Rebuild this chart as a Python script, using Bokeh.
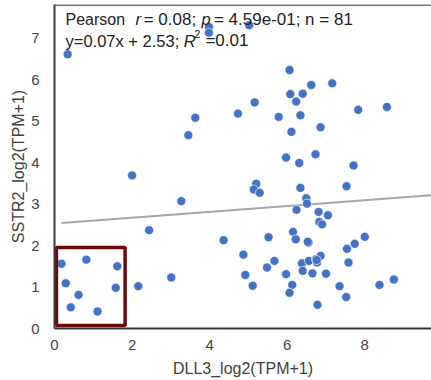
from bokeh.plotting import figure
from bokeh.models import Range1d, Span, Label, ColumnDataSource
from bokeh.embed import file_html
from bokeh.resources import INLINE

# ---- data ----
dll3 = [0.34, 3.98, 3.98, 5.02, 6.06, 6.62, 7.16, 6.08, 6.40, 6.23, 5.16, 7.83, 8.57,
        3.63, 4.73, 5.78, 6.34, 6.11, 6.86, 3.45, 5.97, 6.73, 6.31, 7.71, 2.00, 5.20,
        5.14, 5.29, 6.34, 7.53, 3.27, 6.49, 6.51, 6.24, 6.81, 7.05, 6.83, 6.90, 2.44,
        6.15, 4.36, 5.52, 6.22, 6.55, 8.00, 7.74, 7.54, 0.18, 0.82, 1.62, 0.29, 0.62,
        1.58, 0.42, 1.11, 2.16, 3.01, 4.87, 4.92, 5.11, 5.48, 5.67, 5.97, 6.13, 6.06,
        6.38, 6.40, 6.56, 6.74, 6.77, 6.86, 6.65, 7.00, 6.78, 7.35, 7.52, 7.58, 8.38,
        8.75, 6.53, 6.76]
sstr2 = [6.61, 7.27, 7.13, 7.31, 6.23, 5.87, 5.91, 5.65, 5.66, 5.47, 5.45, 5.27, 5.34,
         5.08, 5.18, 5.10, 5.14, 4.74, 4.85, 4.66, 4.12, 4.20, 3.99, 3.93, 3.69, 3.49,
         3.35, 3.27, 3.39, 3.43, 3.07, 3.14, 3.01, 2.86, 2.81, 2.73, 2.57, 2.51, 2.37,
         2.33, 2.13, 2.20, 2.15, 2.07, 2.21, 2.04, 1.92, 1.56, 1.66, 1.50, 1.09, 0.81,
         0.98, 0.51, 0.41, 1.02, 1.23, 1.78, 1.29, 1.03, 1.47, 1.63, 1.31, 1.05, 0.86,
         1.57, 1.39, 1.63, 1.67, 1.59, 1.75, 1.33, 1.32, 0.57, 1.02, 0.76, 1.59, 1.05,
         1.18, 2.09, 1.65]
fit_slope = 0.07
fit_intercept = 2.53
x_ticks = [0, 2, 4, 6, 8]
y_ticks = [0, 1, 2, 3, 4, 5, 6, 7]
x_label = "DLL3_log2(TPM+1)"
y_label = "SSTR2_log2(TPM+1)"
# highlighted low-expression region (data units)
box_left, box_right, box_bottom, box_top = 0.05, 1.82, 0.07, 1.95

X_MAX = 9.72
Y_MAX = 7.81
FONT = "Liberation Sans"

p = figure(width=431, height=380, output_backend="svg", toolbar_location=None,
           x_range=Range1d(0, X_MAX), y_range=Range1d(0, Y_MAX),
           min_border_left=54, min_border_right=0, min_border_top=4, min_border_bottom=52)
p.outline_line_color = None
p.grid.visible = False
p.background_fill_color = "white"
p.border_fill_color = "white"

# axes
for ax in (p.xaxis[0], p.yaxis[0]):
    ax.axis_line_color = "#3a3a3a"
    ax.axis_line_width = 2
    ax.major_tick_line_color = None
    ax.minor_tick_line_color = None
    ax.major_tick_out = 0
    ax.major_tick_in = 0
    ax.minor_tick_out = 0
    ax.minor_tick_in = 0
    ax.major_label_text_font = FONT
    ax.major_label_text_font_size = "15px"
    ax.major_label_text_color = "#444444"
    ax.axis_label_text_font = FONT
    ax.axis_label_text_font_size = "16px"
    ax.axis_label_text_font_style = "normal"
    ax.axis_label_text_color = "#404040"
p.xaxis.ticker = x_ticks
p.yaxis.ticker = y_ticks
p.xaxis.major_label_standoff = 11
p.yaxis.major_label_standoff = 15
p.xaxis.axis_label = x_label
p.yaxis.axis_label = y_label
p.xaxis.axis_label_standoff = 7
p.yaxis.axis_label_standoff = 1

# top border line
p.add_layout(Span(location=Y_MAX - 0.01, dimension="width", line_color="#4a4a4a", line_width=1.5))

# regression line
x0 = min(dll3)
p.line([x0, X_MAX], [fit_slope * x0 + fit_intercept, fit_slope * X_MAX + fit_intercept],
       line_color="#a6a6a6", line_width=2)

# points
src = ColumnDataSource(dict(x=dll3, y=sstr2))
p.scatter("x", "y", source=src, size=9, fill_color="#4472C4", line_color="white",
          line_width=0.6)

# highlight box
p.quad(left=[box_left], right=[box_right], bottom=[box_bottom], top=[box_top],
       fill_color=None, line_color="#6b0a0a", line_width=3.5)

# annotation texts
def lab(x, y, t, italic=False, size="16.5px"):
    p.add_layout(Label(x=x, y=y, text=t, text_font=FONT, text_font_size=size,
                       text_font_style="italic" if italic else "normal",
                       text_color="#222222", text_baseline="alphabetic", text_align="left"))

y1, y2 = 7.45, 6.94
lab(0.284, y1, "Pearson", size="16px")
lab(2.09, y1, "r", italic=True)
lab(2.30, y1, "= 0.08;", size="17px")
lab(3.79, y1, "p", italic=True)
lab(4.11, y1, "= 4.59e-01; n = 81", size="17px")
lab(0.284, y2, "y=0.07x + 2.53;")
lab(3.33, y2, "R", italic=True)
lab(3.60, 7.10, "2", size="11px")
lab(3.89, y2, "=0.01", size="17px")

open("out.html", "w").write(file_html(p, INLINE))
